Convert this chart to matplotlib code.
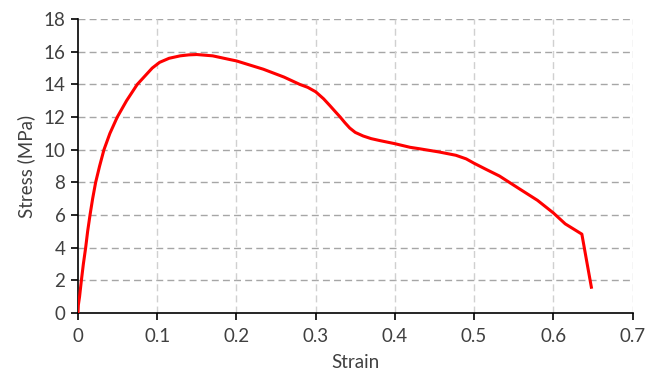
import matplotlib
matplotlib.use("Agg")
import matplotlib.pyplot as plt

plt.rcParams["font.family"] = ["Lato", "DejaVu Sans"]

# stress-strain curve
strain = [0.0, 0.0005, 0.002, 0.0043, 0.0068, 0.0097, 0.0122, 0.0152, 0.0185,
          0.0223, 0.0273, 0.0328, 0.0403, 0.0496, 0.0613, 0.0748, 0.0937,
          0.103, 0.115, 0.129, 0.140, 0.150, 0.170, 0.192, 0.200, 0.234,
          0.260, 0.280, 0.290, 0.300, 0.310, 0.318, 0.325, 0.331, 0.337,
          0.343, 0.350, 0.360, 0.370, 0.381, 0.400, 0.419, 0.431, 0.456,
          0.477, 0.490, 0.500, 0.515, 0.532, 0.557, 0.580, 0.600, 0.615,
          0.630, 0.636, 0.642, 0.648]
stress = [0.0, 0.5, 1.0, 2.0, 3.0, 4.0, 5.0, 6.0, 7.0,
          8.0, 9.0, 10.0, 11.0, 12.0, 13.0, 14.0, 15.0,
          15.35, 15.6, 15.75, 15.81, 15.83, 15.75, 15.52, 15.44, 14.93,
          14.45, 14.0, 13.82, 13.55, 13.12, 12.7, 12.32, 12.0, 11.65,
          11.33, 11.06, 10.84, 10.68, 10.56, 10.37, 10.15, 10.06, 9.86,
          9.66, 9.44, 9.17, 8.8, 8.39, 7.61, 6.9, 6.13, 5.46,
          5.01, 4.83, 3.2, 1.58]

xticks = [0, 0.1, 0.2, 0.3, 0.4, 0.5, 0.6, 0.7]
xtick_labels = ["0", "0.1", "0.2", "0.3", "0.4", "0.5", "0.6", "0.7"]
yticks = list(range(0, 19, 2))

fig = plt.figure(figsize=(6.46, 3.82), dpi=100)
ax = fig.add_axes([0.1207, 0.1806, 0.8585, 0.7694])

ax.plot(strain, stress, color="#ff0000", lw=2.2, zorder=5)

ax.set_xlim(0, 0.7)
ax.set_ylim(0, 18)
ax.set_xticks(xticks)
ax.set_xticklabels(xtick_labels)
ax.set_yticks(yticks)

# excel-like dashed grid
for y in yticks[1:]:
    ax.axhline(y, color="#a6a6a6", lw=1.0, ls=(0, (5, 3)), zorder=1)
for x in xticks[1:]:
    ax.axvline(x, color="#d0d0d0", lw=1.0, ls=(0, (5, 3)), zorder=1)

for side in ("top", "right"):
    ax.spines[side].set_visible(False)
for side in ("left", "bottom"):
    ax.spines[side].set_color("black")
    ax.spines[side].set_linewidth(1.2)

ax.tick_params(axis="both", direction="out", length=5, width=1.2,
               color="black", labelsize=13.5, labelcolor="#404040")
ax.tick_params(axis="x", pad=6)
ax.tick_params(axis="y", pad=4)

ax.set_xlabel("Strain", fontsize=13.5, color="#404040", labelpad=6)
ax.set_ylabel("Stress (MPa)", fontsize=13.5, color="#404040", labelpad=6)

fig.savefig("out.png", dpi=100)
